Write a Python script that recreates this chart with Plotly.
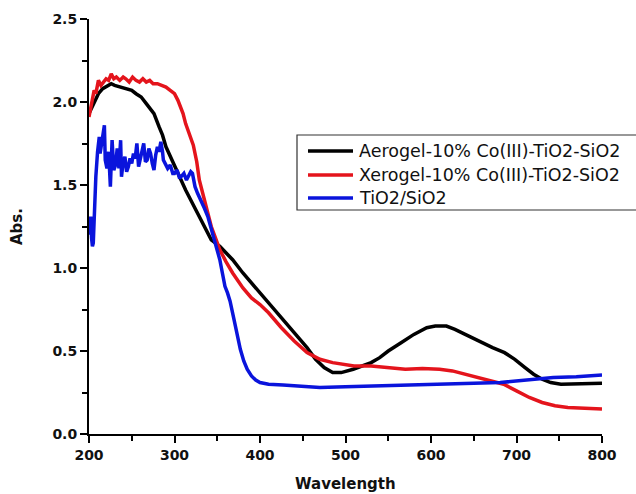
import plotly.graph_objects as go

# ---------------- data ----------------
aero_wl = [200, 202, 206, 211, 216, 222, 226, 230, 236, 243, 250, 255, 261, 267, 272, 276,
           282, 286, 290, 296, 302, 308, 313, 319, 325, 331, 337, 343, 353, 368, 380, 395,
           410, 425, 440, 455, 465, 475, 485, 495, 509, 520, 530, 540, 550, 565, 580, 595,
           605, 618, 628, 640, 655, 672, 686, 698, 710, 720, 730, 740, 752, 770, 790, 800]
aero_abs = [1.93, 1.95, 2.00, 2.05, 2.08, 2.10, 2.11, 2.10, 2.09, 2.08, 2.07, 2.05, 2.03, 1.99, 1.96, 1.93,
            1.85, 1.80, 1.73, 1.66, 1.59, 1.52, 1.47, 1.41, 1.35, 1.29, 1.23, 1.17, 1.13, 1.05, 0.97, 0.88,
            0.79, 0.70, 0.61, 0.52, 0.45, 0.40, 0.37, 0.37, 0.39, 0.41, 0.43, 0.46, 0.50, 0.55, 0.60, 0.64,
            0.65, 0.65, 0.63, 0.60, 0.56, 0.52, 0.49, 0.45, 0.40, 0.36, 0.33, 0.31, 0.30, 0.30, 0.30, 0.305]

xero_wl = [200, 202, 204, 206, 208, 211, 214, 217, 220, 223, 226, 229, 232, 236, 240, 243, 247, 251,
           255, 259, 263, 267, 271, 275, 280, 285, 290, 295, 300, 304, 307, 310, 313, 316, 319, 322,
           326, 329, 333, 337, 343, 348, 353, 360, 368, 380, 390, 400, 410, 425, 440, 455, 470, 485,
           500, 510, 530, 550, 570, 590, 610, 625, 640, 655, 670, 685, 700, 715, 730, 745, 760, 780, 800]
xero_abs = [1.91, 1.97, 2.02, 2.07, 2.05, 2.13, 2.10, 2.12, 2.14, 2.13, 2.17, 2.14, 2.15, 2.13, 2.15, 2.14, 2.12, 2.15,
            2.13, 2.12, 2.14, 2.12, 2.13, 2.11, 2.11, 2.10, 2.09, 2.07, 2.05, 2.01, 1.97, 1.93, 1.87, 1.83, 1.79, 1.74,
            1.64, 1.53, 1.45, 1.37, 1.25, 1.18, 1.11, 1.04, 0.97, 0.88, 0.82, 0.78, 0.73, 0.64, 0.56, 0.49, 0.45, 0.43,
            0.42, 0.41, 0.41, 0.40, 0.39, 0.395, 0.39, 0.38, 0.36, 0.34, 0.32, 0.30, 0.26, 0.22, 0.19, 0.17, 0.16, 0.155, 0.15]

tio2_wl = [200, 201, 202, 203, 204, 205, 206, 208, 210, 212, 213, 215, 217, 218, 219, 221, 223, 225,
           227, 229, 231, 233, 235, 237, 238, 240, 242, 244, 246, 248, 250, 252, 254, 256, 258, 260,
           262, 264, 266, 268, 270, 272, 274, 276, 278, 280, 282, 284, 286, 287, 289, 292, 295, 298,
           300, 303, 306, 308, 311, 314, 316, 319, 321, 324, 327, 331, 335, 339, 345, 350, 353, 356,
           359, 362, 365, 370, 374, 377, 381, 385, 390, 395, 400, 410, 427, 450, 470, 500, 550, 587,
           620, 650, 681, 710, 743, 770, 800]
tio2_abs = [1.20, 1.30, 1.31, 1.18, 1.13, 1.15, 1.35, 1.55, 1.70, 1.79, 1.69, 1.75, 1.82, 1.86, 1.65, 1.60, 1.70, 1.49,
            1.77, 1.59, 1.62, 1.72, 1.60, 1.77, 1.55, 1.64, 1.67, 1.58, 1.61, 1.66, 1.63, 1.69, 1.66, 1.75, 1.61, 1.66,
            1.70, 1.75, 1.64, 1.65, 1.72, 1.69, 1.63, 1.59, 1.68, 1.73, 1.70, 1.76, 1.70, 1.65, 1.63, 1.60, 1.62, 1.57,
            1.57, 1.59, 1.54, 1.55, 1.57, 1.53, 1.55, 1.58, 1.57, 1.49, 1.45, 1.41, 1.36, 1.31, 1.20, 1.10, 1.05, 0.97,
            0.89, 0.85, 0.80, 0.68, 0.58, 0.51, 0.44, 0.39, 0.35, 0.325, 0.31, 0.30, 0.295, 0.285, 0.28, 0.285, 0.29, 0.295,
            0.30, 0.305, 0.31, 0.325, 0.34, 0.345, 0.355]

series_names = ["Aerogel-10% Co(III)-TiO2-SiO2", "Xerogel-10% Co(III)-TiO2-SiO2", "TiO2/SiO2"]
series_colors = ["#000000", "#e4141c", "#0a14dc"]
x_ticks = [200, 300, 400, 500, 600, 700, 800]
y_ticks = [0.0, 0.5, 1.0, 1.5, 2.0, 2.5]
y_tick_labels = ["0.0", "0.5", "1.0", "1.5", "2.0", "2.5"]

# ---------------- layout geometry ----------------
W, H = 636, 494
L, R, T, B = 89, 34, 19, 60
PW, PH = W - L - R, H - T - B


def px(x):
    return (x - L) / PW


def py(y):
    return (H - B - y) / PH


fig = go.Figure()
for wl, ab, name, col in zip([aero_wl, xero_wl, tio2_wl], [aero_abs, xero_abs, tio2_abs],
                             series_names, series_colors):
    fig.add_trace(go.Scatter(x=wl, y=ab, mode="lines", name=name,
                             line=dict(color=col, width=3.5), showlegend=False))

tickfont = dict(family="DejaVu Sans", size=14, color="#111111", weight="bold")
fig.update_layout(
    width=W, height=H,
    margin=dict(l=L, r=R, t=T, b=B, pad=0),
    paper_bgcolor="white", plot_bgcolor="white",
    xaxis=dict(range=[200, 800], tickvals=x_ticks, ticks="outside", ticklen=7, tickwidth=2,
               tickcolor="black", showline=True, linecolor="black", linewidth=2,
               showgrid=False, zeroline=False, tickfont=tickfont,
               minor=dict(tickvals=[250, 350, 450, 550, 650, 750], ticks="outside",
                          ticklen=5, tickwidth=2, tickcolor="black")),
    yaxis=dict(range=[0, 2.5], tickvals=y_ticks, ticktext=y_tick_labels, ticks="outside",
               ticklen=7, tickwidth=2, tickcolor="black", showline=True, linecolor="black",
               linewidth=2, showgrid=False, zeroline=False, tickfont=tickfont,
               minor=dict(tickvals=[0.25, 0.75, 1.25, 1.75, 2.25], ticks="outside",
                          ticklen=5, tickwidth=2, tickcolor="black"),
               title=dict(text="Abs.", standoff=26,
                          font=dict(family="DejaVu Sans", size=15, color="#111111", weight="bold"))),
)

# x-axis title as annotation
fig.add_annotation(x=0.5, y=py(484), xref="paper", yref="paper", text="Wavelength",
                   showarrow=False, xanchor="center", yanchor="middle",
                   font=dict(family="DejaVu Sans", size=15, color="#111111", weight="bold"))

# legend box
fig.add_shape(type="rect", xref="paper", yref="paper", x0=px(297), x1=px(640),
              y0=py(210), y1=py(135), line=dict(color="#333333", width=1.2),
              fillcolor="white", layer="above")
leg_y = [151, 175, 198]
for yy, name, col in zip(leg_y, series_names, series_colors):
    fig.add_shape(type="line", xref="paper", yref="paper", x0=px(308), x1=px(353),
                  y0=py(yy), y1=py(yy), line=dict(color=col, width=3.5), layer="above")
    fig.add_annotation(x=px(357), y=py(yy), xref="paper", yref="paper", text=name,
                       showarrow=False, xanchor="left", yanchor="middle",
                       font=dict(family="DejaVu Sans", size=17.5, color="#111111"))

fig.write_html("out.html")
